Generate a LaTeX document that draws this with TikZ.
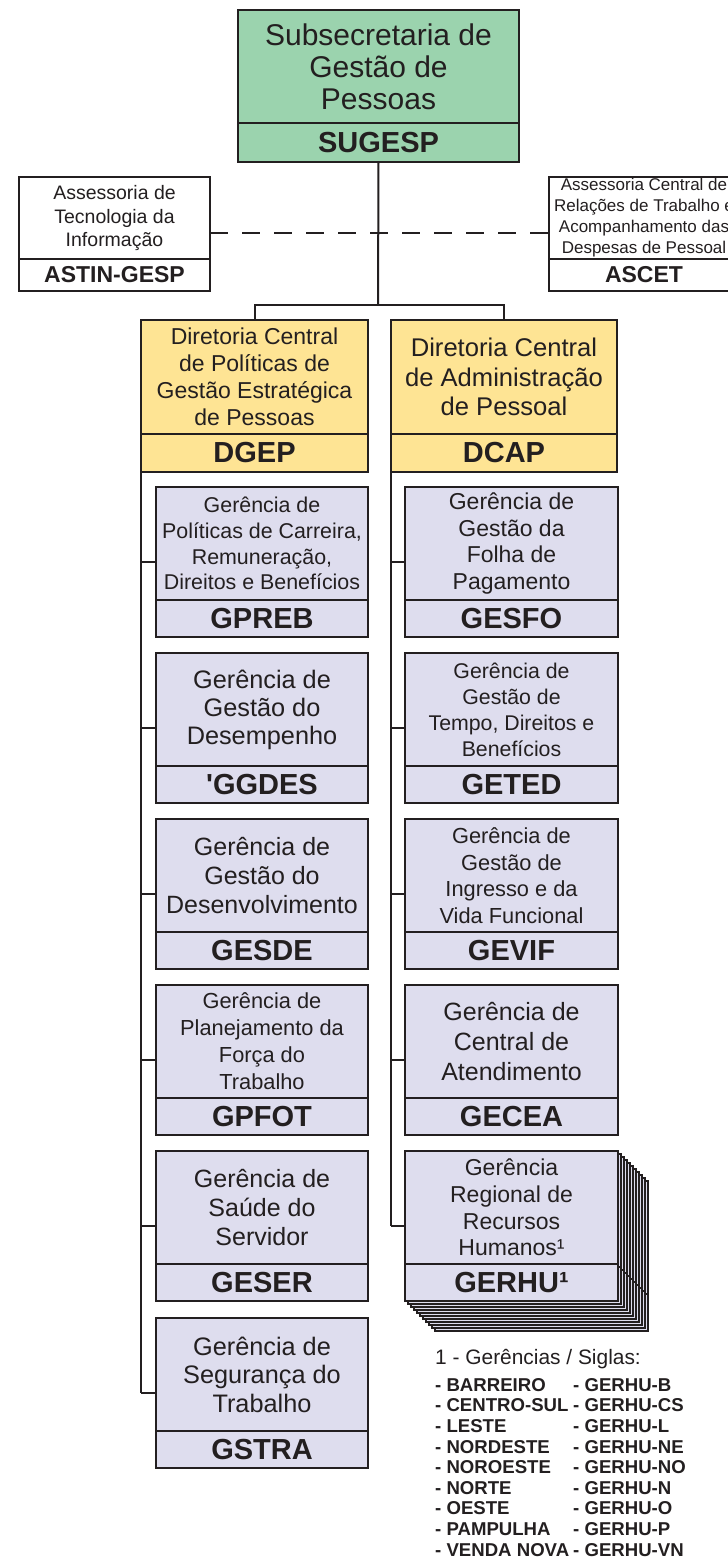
\documentclass[tikz,border=0pt]{standalone}
\usepackage{fontspec}
\setmainfont{Liberation Sans}
\newfontfamily\nomap{Liberation Sans}
\usetikzlibrary{calc}
\definecolor{lc}{RGB}{35,31,32}
\definecolor{sgreen}{RGB}{155,211,174}
\definecolor{syellow}{RGB}{254,228,148}
\definecolor{slav}{RGB}{222,221,238}
\newcommand\fsz[2]{\fontsize{#1}{#2}\selectfont}
\pgfdeclarelayer{bg}
\pgfsetlayers{bg,main}
\newcommand\obox[8]{%
  \node[topbox,#2,#3] (#1) at (#4,#5) {#7};
  \node[botbox,#2,minimum height=#6pt] (#1-b) at (#1.south) {#8};}
\tikzset{
  topbox/.style={draw=lc,line width=2.8pt,inner sep=0pt,outer sep=0pt,anchor=north west,align=center,text=lc},
  botbox/.style={draw=lc,line width=2.8pt,inner sep=0pt,outer sep=0pt,anchor=north,align=center,text=lc,font=\fsz{29}{34}\bfseries},
  conn/.style={draw=lc,line width=2pt},
  dconn/.style={draw=lc,line width=2.5pt,dash pattern=on 18pt off 14pt},
  leftc/.style={fill=slav,minimum width=212pt},
  rightc/.style={fill=slav,minimum width=213pt},
  big/.style={font=\fsz{25}{29},minimum height=113pt},
  small/.style={font=\fsz{21.4}{25.8},minimum height=113pt},
}
\begin{document}
\begin{tikzpicture}[x=1pt,y=-1pt]
\useasboundingbox (0,0) rectangle (728,1567);
\clip (0,0) rectangle (728,1567);

% top level
\obox{sugesp}{fill=sgreen,minimum width=281pt}{font=\fsz{30}{32},minimum height=113pt}{238}{10}{39}{Subsecretaria de\\Gestão de\\Pessoas}{SUGESP}
\obox{astin}{fill=white,minimum width=191pt}{font=\fsz{19.5}{23.5},minimum height=82pt}{19}{177}{32}{Assessoria de\\Tecnologia da\\Informação}{\fsz{23}{26}\bfseries ASTIN-GESP}
\obox{ascet}{fill=white,minimum width=190pt}{font=\fsz{17}{21},minimum height=82pt}{549}{177}{32}{Assessoria Central de\\Relações de Trabalho e\\Acompanhamento das\\Despesas de Pessoal}{\fsz{23}{26}\bfseries ASCET}

% directorates
\obox{dgep}{fill=syellow,minimum width=227pt}{font=\fsz{23}{27},minimum height=114pt}{141}{320}{38}{Diretoria Central\\de Políticas de\\Gestão Estratégica\\de Pessoas}{DGEP}
\obox{dcap}{fill=syellow,minimum width=226pt}{font=\fsz{25.6}{29.5},minimum height=114pt}{391}{320}{38}{Diretoria Central\\de Administração\\de Pessoal}{DCAP}

% left column
\obox{gpreb}{leftc}{small}{156}{487}{37}{Gerência de\\Políticas de Carreira,\\Remuneração,\\Direitos e Benefícios}{GPREB}
\obox{ggdes}{leftc}{big,font=\fsz{25.3}{28}}{156}{653}{37}{Gerência de\\Gestão do\\Desempenho}{{\nomap\bfseries '}GGDES}
\obox{gesde}{leftc}{big}{156}{819}{37}{Gerência de\\Gestão do\\Desenvolvimento}{GESDE}
\obox{gpfot}{leftc}{small,font=\fsz{21.8}{27}}{156}{985}{37}{Gerência de\\Planejamento da\\Força do\\Trabalho}{GPFOT}
\obox{geser}{leftc}{big}{156}{1151}{37}{Gerência de\\Saúde do\\Servidor}{GESER}
\obox{gstra}{leftc}{big,font=\fsz{25.3}{28.5}}{156}{1318}{37}{Gerência de\\Segurança do\\Trabalho}{GSTRA}

% right column
\obox{gesfo}{rightc}{small,font=\fsz{23}{26.5}}{405}{487}{37}{Gerência de\\Gestão da\\Folha de\\Pagamento}{GESFO}
\obox{geted}{rightc}{small,font=\fsz{21.3}{26}}{405}{653}{37}{Gerência de\\Gestão de\\Tempo, Direitos e\\Benefícios}{GETED}
\obox{gevif}{rightc}{small,font=\fsz{21.8}{26.5}}{405}{819}{37}{Gerência de\\Gestão de\\Ingresso e da\\Vida Funcional}{GEVIF}
\obox{gecea}{rightc}{big,font=\fsz{25}{30}}{405}{985}{37}{Gerência de\\Central de\\Atendimento}{GECEA}
\obox{gerhu}{rightc}{small,font=\fsz{23}{26.7}}{405}{1151}{37}{Gerência\\Regional de\\Recursos\\Humanos¹}{GERHU¹}

\coordinate (hub) at (378,305);
\coordinate (dashy) at (378,233);

\begin{pgfonlayer}{bg}
\fill[white] (0,0) rectangle (728,1567);
% stacked copies behind GERHU
\foreach \k in {10,...,1}{
  \draw[draw=lc,fill=slav,line width=1.8pt] ($(gerhu.north west)+(3*\k,3*\k)$) rectangle ($(gerhu-b.south east)+(3*\k,3*\k)$);
  \draw[draw=lc,line width=1.8pt] ($(gerhu-b.north west)+(3*\k,3*\k)$) -- ($(gerhu-b.north east)+(3*\k,3*\k)$);
}
% connectors
\draw[conn] (sugesp-b.south) -- (hub);
\draw[conn] (dgep.north) |- (hub) -| (dcap.north);
\draw[dconn] (astin.east |- dashy) -- (ascet.west |- dashy);
\end{pgfonlayer}

\foreach \n in {gpreb,ggdes,gesde,gpfot,geser,gstra}
  \coordinate (\n-m) at ($(\n.north west)!0.5!(\n-b.south west)$);
\foreach \n in {gesfo,geted,gevif,gecea,gerhu}
  \coordinate (\n-m) at ($(\n.north west)!0.5!(\n-b.south west)$);

\draw[conn] (dgep-b.south west) -- (dgep-b.south west |- gstra-m);
\foreach \n in {gpreb,ggdes,gesde,gpfot,geser,gstra}
  \draw[conn] (dgep-b.south west |- \n-m) -- (\n-m);
\draw[conn] (dcap-b.south west) -- (dcap-b.south west |- gerhu-m);
\foreach \n in {gesfo,geted,gevif,gecea,gerhu}
  \draw[conn] (dcap-b.south west |- \n-m) -- (\n-m);

% legend
\node[anchor=west,text=lc,font=\fsz{20.9}{24},inner sep=0pt] (leg) at (435,1359) {1 - Gerências / Siglas:};
\node[anchor=north west,align=left,text=lc,font=\fsz{18.6}{20.6}\bfseries,inner sep=0pt] (legl) at (435,1378)
 {- BARREIRO\\- CENTRO-SUL\\- LESTE\\- NORDESTE\\- NOROESTE\\- NORTE\\- OESTE\\- PAMPULHA\\- VENDA NOVA};
\node[anchor=north west,align=left,text=lc,font=\fsz{18.6}{20.6}\bfseries,inner sep=0pt] (legr) at (573,1378)
 {- GERHU-B\\- GERHU-CS\\- GERHU-L\\- GERHU-NE\\- GERHU-NO\\- GERHU-N\\- GERHU-O\\- GERHU-P\\- GERHU-VN};
\end{tikzpicture}
\end{document}
